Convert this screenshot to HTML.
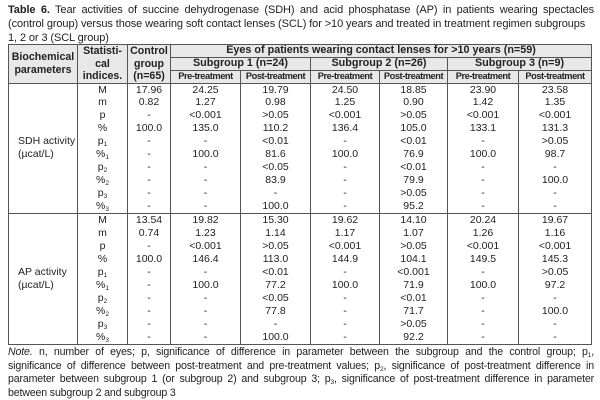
<!DOCTYPE html>
<html><head><meta charset="utf-8"><style>
body{margin:0;width:600px;height:400px;background:#fff;font-family:"Liberation Sans",Arial,sans-serif;color:#222;overflow:hidden;position:relative}
.title{position:absolute;left:8px;top:3px;width:586px;font-size:11px;line-height:14px;text-align:justify;letter-spacing:-0.1px}
table{position:absolute;left:8px;top:44px;border-collapse:collapse;table-layout:fixed;width:583px}
td{border:1px solid #555;padding:0;text-align:center;font-size:10.5px;vertical-align:top;white-space:nowrap;overflow:hidden}
.h{background:#e8e8e8;font-weight:bold;vertical-align:middle}
.hr{height:12px}
.h1{line-height:11px;font-size:10.8px}
.h3{line-height:11px;font-size:9.3px;letter-spacing:-0.45px}
.body td{line-height:12.95px}
.lab{text-align:left;padding-left:9px;vertical-align:middle}
sub{font-size:6.5px;vertical-align:-2px;line-height:0}
.note{position:absolute;left:8px;top:346px;width:586px;font-size:10.6px;line-height:13.5px;letter-spacing:-0.15px}
.note div{white-space:nowrap}
.note .j{text-align:justify;text-align-last:justify;white-space:normal}
</style></head><body>
<div class="title"><b>Table 6.</b> Tear activities of succine dehydrogenase (SDH) and acid phosphatase (AP) in patients wearing spectacles (control group) versus those wearing soft contact lenses (SCL) for &gt;10 years and treated in treatment regimen subgroups<br>1, 2 or 3 (SCL group)</div>
<table>
<colgroup><col style="width:69px"><col style="width:50px"><col style="width:43px"><col style="width:70px"><col style="width:70px"><col style="width:69px"><col style="width:68px"><col style="width:71px"><col style="width:73px"></colgroup>
<tr class="hr"><td class="h" rowspan="3" style="line-height:13px;font-size:10.6px">Biochemical<br>parameters</td><td class="h" rowspan="3" style="line-height:12.5px;font-size:10.6px">Statisti-<br>cal<br>indices.</td><td class="h" rowspan="3" style="line-height:12.5px;font-size:10.6px">Control<br>group<br>(n=65)</td><td class="h h1" colspan="6">Eyes of patients wearing contact lenses for &gt;10 years (n=59)</td></tr>
<tr class="hr"><td class="h h1" colspan="2">Subgroup 1 (n=24)</td><td class="h h1" colspan="2">Subgroup 2 (n=26)</td><td class="h h1" colspan="2">Subgroup 3 (n=9)</td></tr>
<tr class="hr"><td class="h h3">Pre-treatment</td><td class="h h3">Post-treatment</td><td class="h h3">Pre-treatment</td><td class="h h3">Post-treatment</td><td class="h h3">Pre-treatment</td><td class="h h3">Post-treatment</td></tr>
<tr class="body" style="height:129px"><td class="lab">SDH activity<br>(µcat/L)</td>
<td>M<br>m<br>p<br>%<br>p<sub>1</sub><br>%<sub>1</sub><br>p<sub>2</sub><br>%<sub>2</sub><br>p<sub>3</sub><br>%<sub>3</sub></td>
<td>17.96<br>0.82<br>-<br>100.0<br>-<br>-<br>-<br>-<br>-<br>-</td>
<td>24.25<br>1.27<br>&lt;0.001<br>135.0<br>-<br>100.0<br>-<br>-<br>-<br>-</td>
<td>19.79<br>0.98<br>&gt;0.05<br>110.2<br>&lt;0.01<br>81.6<br>&lt;0.05<br>83.9<br>-<br>100.0</td>
<td>24.50<br>1.25<br>&lt;0.001<br>136.4<br>-<br>100.0<br>-<br>-<br>-<br>-</td>
<td>18.85<br>0.90<br>&gt;0.05<br>105.0<br>&lt;0.01<br>76.9<br>&lt;0.01<br>79.9<br>&gt;0.05<br>95.2</td>
<td>23.90<br>1.42<br>&lt;0.001<br>133.1<br>-<br>100.0<br>-<br>-<br>-<br>-</td>
<td>23.58<br>1.35<br>&lt;0.001<br>131.3<br>&gt;0.05<br>98.7<br>-<br>100.0<br>-<br>-</td></tr>
<tr class="body" style="height:131px"><td class="lab">AP activity<br>(µcat/L)</td>
<td>M<br>m<br>p<br>%<br>p<sub>1</sub><br>%<sub>1</sub><br>p<sub>2</sub><br>%<sub>2</sub><br>p<sub>3</sub><br>%<sub>3</sub></td>
<td>13.54<br>0.74<br>-<br>100.0<br>-<br>-<br>-<br>-<br>-<br>-</td>
<td>19.82<br>1.23<br>&lt;0.001<br>146.4<br>-<br>100.0<br>-<br>-<br>-<br>-</td>
<td>15.30<br>1.14<br>&gt;0.05<br>113.0<br>&lt;0.01<br>77.2<br>&lt;0.05<br>77.8<br>-<br>100.0</td>
<td>19.62<br>1.17<br>&lt;0.001<br>144.9<br>-<br>100.0<br>-<br>-<br>-<br>-</td>
<td>14.10<br>1.07<br>&gt;0.05<br>104.1<br>&lt;0.001<br>71.9<br>&lt;0.01<br>71.7<br>&gt;0.05<br>92.2</td>
<td>20.24<br>1.26<br>&lt;0.001<br>149.5<br>-<br>100.0<br>-<br>-<br>-<br>-</td>
<td>19.67<br>1.16<br>&lt;0.001<br>145.3<br>&gt;0.05<br>97.2<br>-<br>100.0<br>-<br>-</td></tr>
</table>
<div class="note"><div class="j"><i>Note.</i> n, number of eyes; p, significance of difference in parameter between the subgroup and the control group; p<sub>1</sub>,</div><div class="j">significance of difference between post-treatment and pre-treatment values; p<sub>2</sub>, significance of post-treatment difference in</div><div class="j">parameter between subgroup 1 (or subgroup 2) and subgroup 3; p<sub>3</sub>, significance of post-treatment difference in parameter</div><div>between subgroup 2 and subgroup 3</div></div>
</body></html>
